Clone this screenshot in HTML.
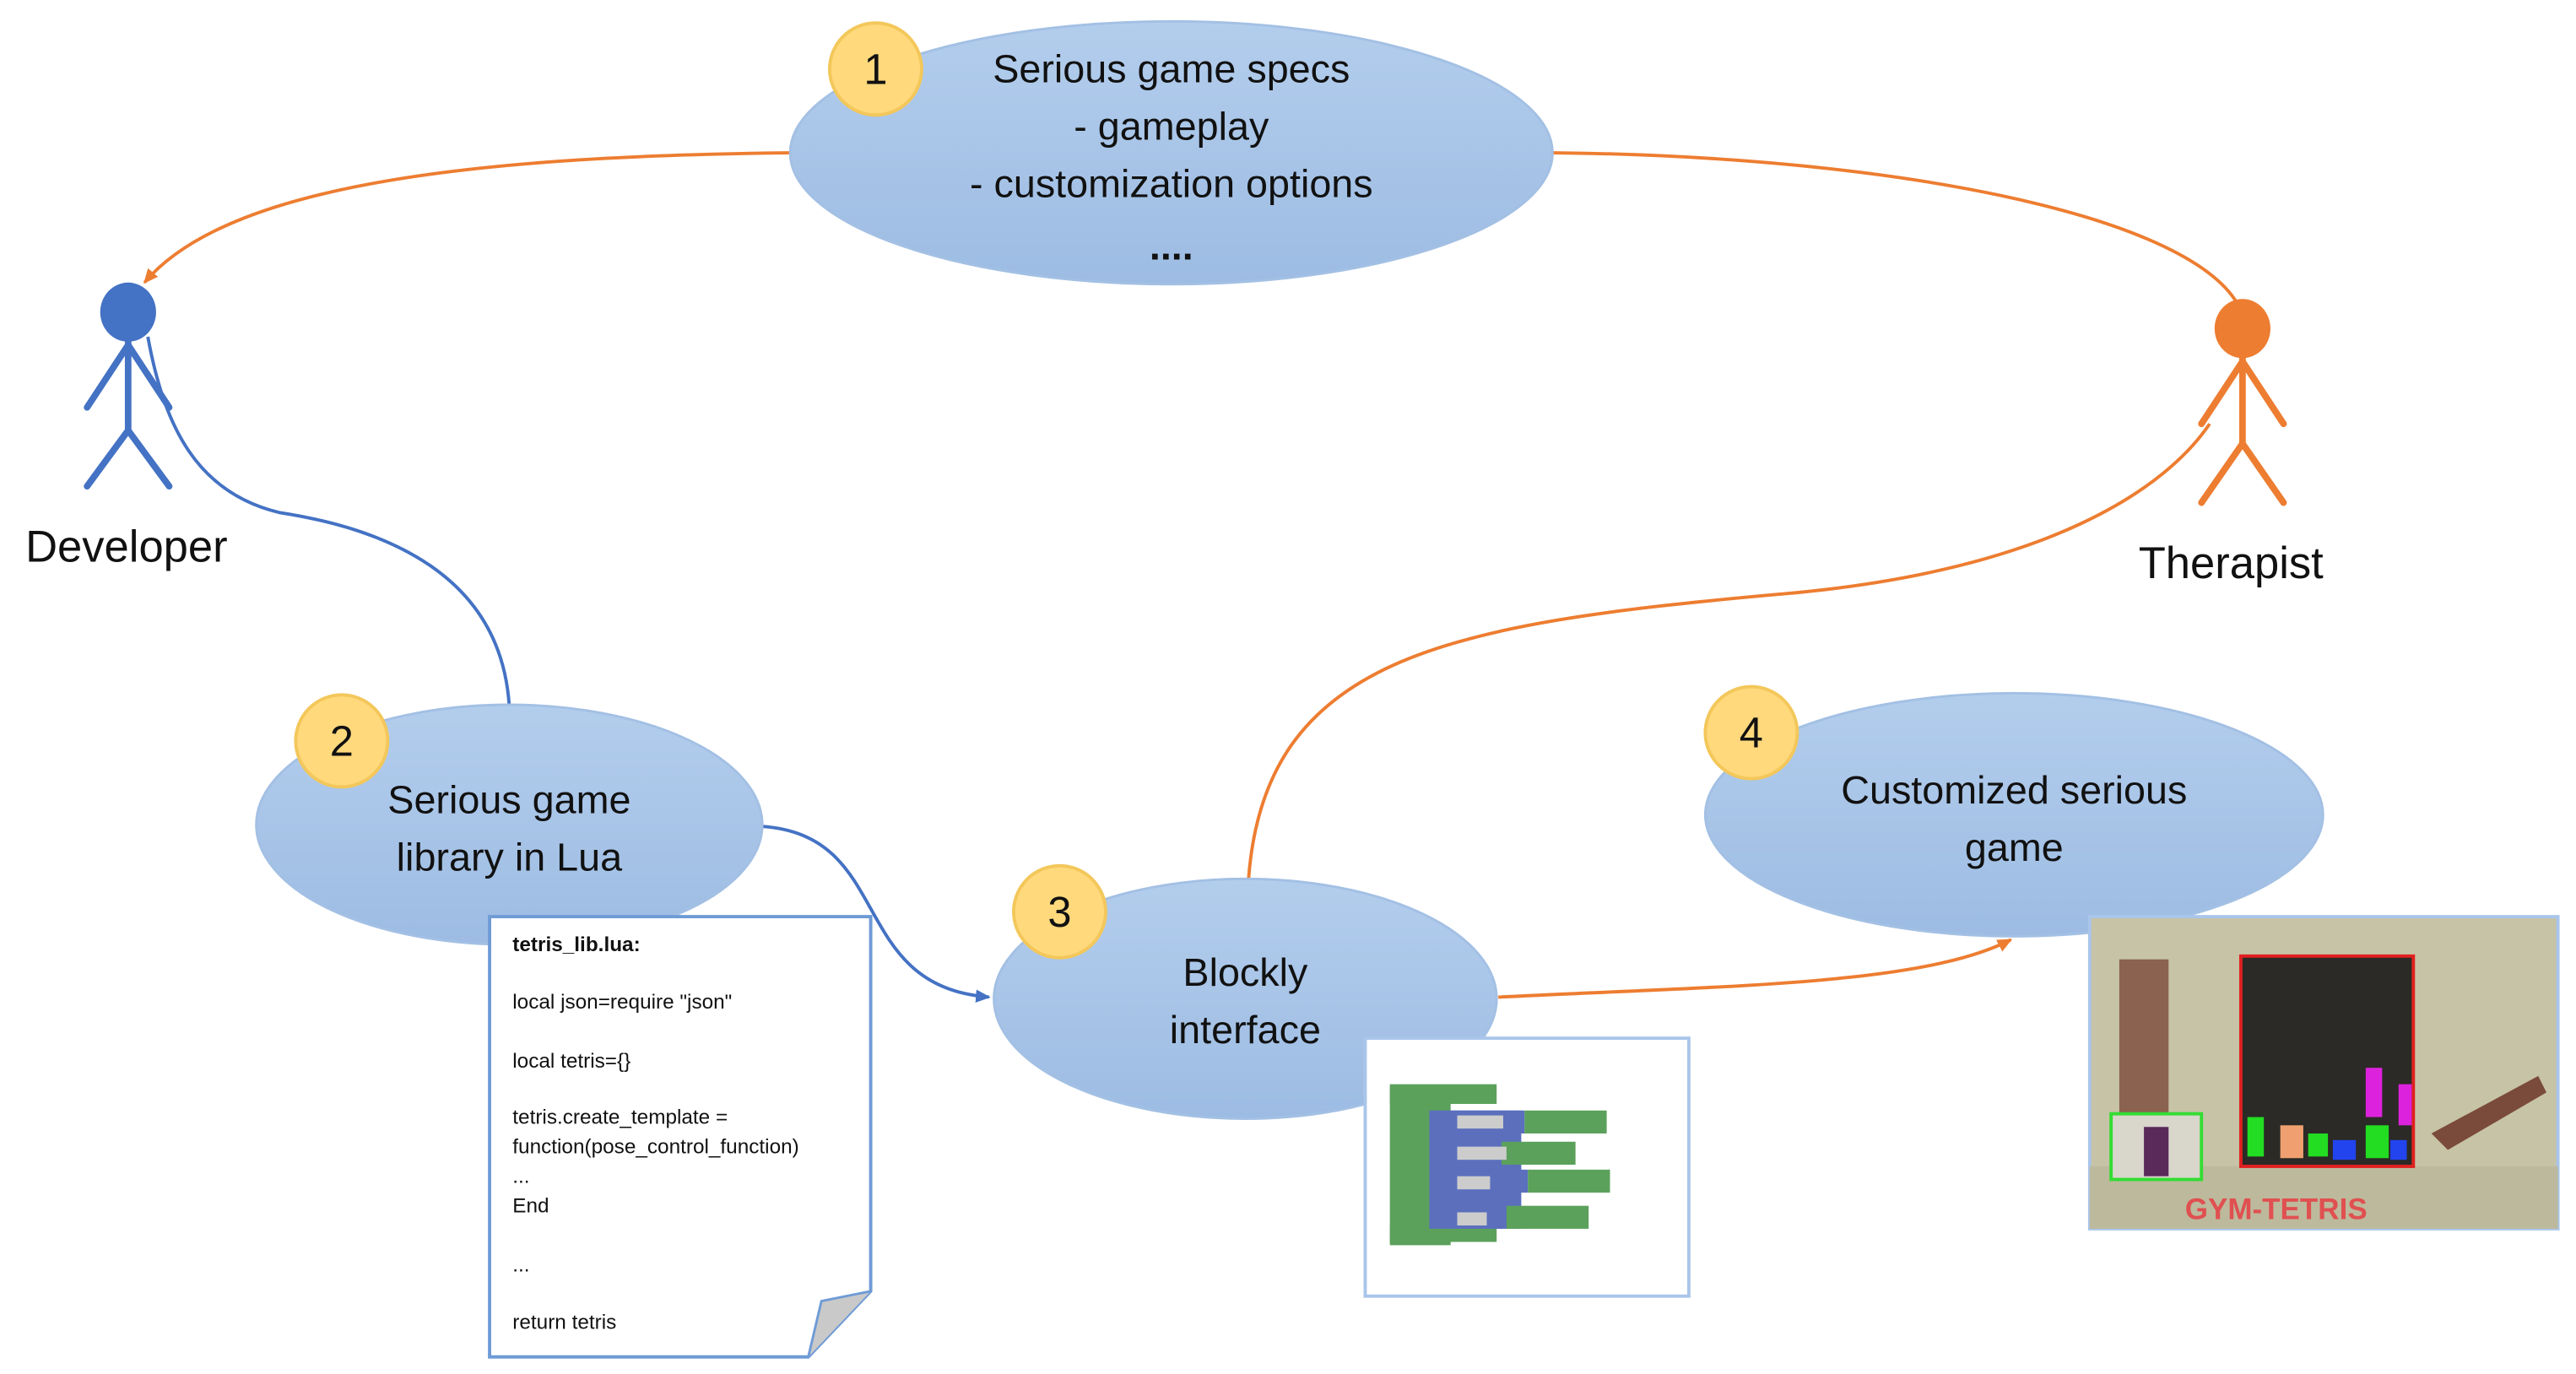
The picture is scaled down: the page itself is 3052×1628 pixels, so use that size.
<!DOCTYPE html>
<html><head><meta charset="utf-8"><style>
html,body{margin:0;padding:0;background:#fff;}
svg{display:block;}
text{font-family:"Liberation Sans","DejaVu Sans",sans-serif;fill:#111;}
</style></head><body>
<svg width="3052" height="1628" viewBox="0 0 1568 836.4" preserveAspectRatio="none" xmlns="http://www.w3.org/2000/svg">
<defs>
<linearGradient id="g" x1="0" y1="0" x2="0" y2="1"><stop offset="0" stop-color="#b3cdec"/><stop offset="1" stop-color="#9dbce3"/></linearGradient>
<marker id="ao" markerWidth="10" markerHeight="10" refX="8" refY="5" orient="auto" markerUnits="userSpaceOnUse"><path d="M0,1 L9,5 L0,9 z" fill="#ed7d31"/></marker>
<marker id="ab" markerWidth="10" markerHeight="10" refX="8" refY="5" orient="auto" markerUnits="userSpaceOnUse"><path d="M0,1 L9,5 L0,9 z" fill="#4472c4"/></marker>
</defs>
<g fill="none" stroke-width="2">
<path d="M481,93 C300,95 140,110 88,172" stroke="#ed7d31" marker-end="url(#ao)"/>
<path d="M945,93 C1150,95 1330,130 1362,185" stroke="#ed7d31"/>
<path d="M90,205 C100,260 120,300 170,312 C235,322 305,350 310,430" stroke="#4472c4"/>
<path d="M463,503 C545,508 515,600 602,607" stroke="#4472c4" marker-end="url(#ab)"/>
<path d="M760,535 C770,400 880,380 1080,362 C1250,348 1320,295 1345,258" stroke="#ed7d31"/>
<path d="M912,607 C1050,600 1170,600 1224,572" stroke="#ed7d31" marker-end="url(#ao)"/>
</g>
<g stroke="#4472c4" stroke-width="4" fill="none" stroke-linecap="round">
<line x1="78" y1="205" x2="78" y2="262"/><line x1="78" y1="210" x2="53" y2="248"/><line x1="78" y1="210" x2="103" y2="248"/>
<line x1="78" y1="262" x2="53" y2="296"/><line x1="78" y1="262" x2="103" y2="296"/>
</g>
<ellipse cx="78" cy="190" rx="17" ry="18" fill="#4472c4"/>
<text x="77" y="342" font-size="27" text-anchor="middle">Developer</text>
<g stroke="#ed7d31" stroke-width="4" fill="none" stroke-linecap="round">
<line x1="1365" y1="215" x2="1365" y2="270"/><line x1="1365" y1="220" x2="1340" y2="258"/><line x1="1365" y1="220" x2="1390" y2="258"/>
<line x1="1365" y1="270" x2="1340" y2="306"/><line x1="1365" y1="270" x2="1390" y2="306"/>
</g>
<ellipse cx="1365" cy="200" rx="17" ry="18" fill="#ed7d31"/>
<text x="1358" y="352" font-size="27" text-anchor="middle">Therapist</text>
<g fill="url(#g)" stroke="#a3c0e4" stroke-width="1.5">
<ellipse cx="713" cy="93" rx="232" ry="80"/>
<ellipse cx="310" cy="502" rx="154" ry="73"/>
<ellipse cx="758" cy="608" rx="153" ry="73"/>
<ellipse cx="1226" cy="496" rx="188" ry="74"/>
</g>
<g font-size="24" text-anchor="middle">
<text x="713" y="50">Serious game specs</text>
<text x="713" y="85">- gameplay</text>
<text x="713" y="120">- customization options</text>
<text x="713" y="158" font-weight="bold">....</text>
<text x="310" y="495">Serious game</text>
<text x="310" y="530">library in Lua</text>
<text x="758" y="600">Blockly</text>
<text x="758" y="635">interface</text>
<text x="1226" y="489">Customized serious</text>
<text x="1226" y="524">game</text>
</g>
<g fill="#ffd97c" stroke="#f3c75a" stroke-width="2">
<circle cx="533" cy="42" r="28"/><circle cx="208" cy="451" r="28"/><circle cx="645" cy="555" r="28"/><circle cx="1066" cy="446" r="28"/>
</g>
<g font-size="26" text-anchor="middle">
<text x="533" y="51">1</text><text x="208" y="460">2</text><text x="645" y="564">3</text><text x="1066" y="455">4</text>
</g>
<path d="M298,558 L530,558 L530,786 L492,826 L298,826 Z" fill="#fff" stroke="#6f9bd6" stroke-width="2"/>
<path d="M492,826 L500,792 L530,786" fill="#c9c9c9" stroke="#6f9bd6" stroke-width="1.5"/>
<g font-size="12.5">
<text x="312" y="579" font-weight="bold">tetris_lib.lua:</text>
<text x="312" y="614">local json=require "json"</text>
<text x="312" y="650">local tetris={}</text>
<text x="312" y="684">tetris.create_template =</text>
<text x="312" y="702">function(pose_control_function)</text>
<text x="312" y="720">...</text>
<text x="312" y="738">End</text>
<text x="312" y="774">...</text>
<text x="312" y="809">return tetris</text>
</g>
<rect x="831" y="632" width="197" height="157" fill="#fff" stroke="#a9c5ea" stroke-width="2"/>
<rect x="846" y="662" width="37" height="96" fill="#5ba15b"/>
<rect x="846" y="660" width="65" height="12" fill="#5ba15b"/>
<rect x="846" y="746" width="65" height="10" fill="#5ba15b"/>
<rect x="870" y="676" width="56" height="72" fill="#5b6fbd"/>
<g fill="#5b6fbd"><rect x="880" y="676" width="48" height="14"/><rect x="880" y="712" width="50" height="14"/><rect x="880" y="734" width="35" height="14"/></g>
<g fill="#5ba15b"><rect x="928" y="676" width="50" height="14"/><rect x="930" y="712" width="50" height="14"/><rect x="917" y="734" width="50" height="14"/><rect x="914" y="695" width="45" height="14"/></g>
<g fill="#ccc"><rect x="887" y="679" width="28" height="8"/><rect x="887" y="698" width="30" height="8"/><rect x="887" y="716" width="20" height="8"/><rect x="887" y="738" width="18" height="8"/></g>
<rect x="1272" y="558" width="285" height="190" fill="#c7c3a6" stroke="#a9c5ea" stroke-width="2"/>
<rect x="1272" y="710" width="285" height="38" fill="#bdb99c"/>
<rect x="1290" y="584" width="30" height="120" fill="#7a4a3a" opacity="0.8"/>
<rect x="1364" y="582" width="105" height="128" fill="#2b2a26" stroke="#e02020" stroke-width="2"/>
<g fill="#22dd22"><rect x="1368" y="680" width="10" height="24"/><rect x="1405" y="690" width="12" height="14"/><rect x="1440" y="685" width="14" height="20"/></g>
<g fill="#dd22dd"><rect x="1440" y="650" width="10" height="30"/><rect x="1460" y="660" width="8" height="25"/></g>
<g fill="#2244ee"><rect x="1420" y="694" width="14" height="12"/><rect x="1455" y="694" width="10" height="12"/></g>
<rect x="1388" y="685" width="14" height="20" fill="#f0a070"/>
<rect x="1285" y="678" width="55" height="40" fill="#d9d6cc" stroke="#33dd33" stroke-width="2"/>
<rect x="1305" y="686" width="15" height="30" fill="#5a2a5a"/>
<path d="M1480,690 L1545,655 L1550,665 L1490,700 Z" fill="#7a4a3a"/>
<text x="1330" y="742" font-size="18" font-weight="bold" style="fill:#e05050">GYM-TETRIS</text>
</svg>
</body></html>
